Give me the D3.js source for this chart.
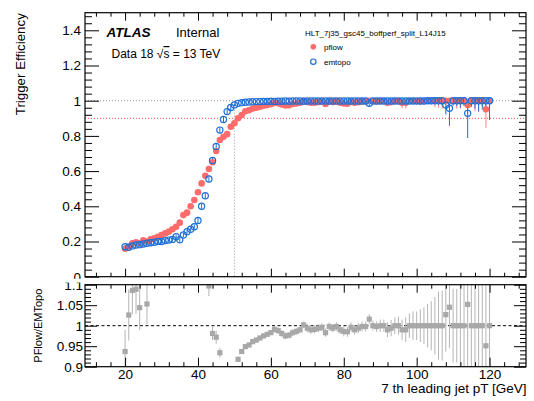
<!DOCTYPE html>
<html>
<head>
<meta charset="utf-8">
<script src="https://cdn.jsdelivr.net/npm/d3@7"></script>
<style>
  body { margin: 0; background: #fff; }
  svg { display: block; }
</style>
</head>
<body>
<svg id="chart" width="534" height="401"></svg>
<script>
// ---- data: 7th leading jet pT bins [GeV] ----
const ptBins = [20,21,22,23,24,25,26,27,28,29,30,31,32,33,34,35,36,37,38,39,
  40,41,42,43,44,45,46,47,48,49,50,51,52,53,54,55,56,57,58,59,
  60,61,62,63,64,65,66,67,68,69,70,71,72,73,74,75,76,77,78,79,
  80,81,82,83,84,85,86,87,88,89,90,91,92,93,94,95,96,97,98,99,
  100,101,102,103,104,105,106,107,108,109,110,111,112,113,114,115,116,117,118,119,120];

// trigger efficiency, pflow jets
const effPflow = [
  .159,.171,.190,.196,.190,.207,.200,.212,.218,.227,
  .237,.246,.256,.270,.284,.307,.350,.364,.400,.436,
  .480,.530,.574,.612,.650,.714,.777,.795,.810,.852,
  .872,.900,.919,.940,.946,.955,.960,.965,.971,.975,
  .980,.987,.985,.978,.973,.974,.981,.984,.988,.999,
  .992,.988,.989,.992,.994,.981,.996,.992,.996,.988,
  .984,.983,.994,.988,.992,.996,.996,1.0,.998,.996,
  .998,.998,.988,.992,.998,.998,.988,.988,.998,.998,
  .998,.998,.998,1.0,1.0,1.0,1.0,1.0,1.0,1.0,
  1.0,1.0,1.0,1.0,.976,1.0,1.0,1.0,1.0,.951,
  1.0];
// trigger efficiency, emtopo jets
const effEmtopo = [
  .170,.167,.175,.180,.182,.186,.190,.193,.196,.200,
  .200,.205,.208,.212,.227,.210,.237,.256,.270,.284,
  .320,.400,.460,.555,.660,.740,.833,.893,.938,.961,
  .976,.985,.989,.991,.993,.994,.995,.995,.996,.996,
  .997,.996,.997,.997,.998,.997,.998,.998,.998,.997,
  .998,.998,.998,.998,.998,.998,.998,.998,.998,.998,
  .998,.998,.998,.998,.998,.998,.998,.985,.998,.998,
  .998,.998,.998,.998,.998,.998,.998,.998,.998,.998,
  .998,.998,.998,1.0,1.0,1.0,1.0,1.0,.976,.957,
  1.0,1.0,1.0,1.0,.928,1.0,1.0,1.0,1.0,1.0,
  1.0];
// downward uncertainties on the efficiencies
const errPflow = [
  .012,.012,.012,.012,.012,.012,.012,.012,.012,.012,
  .015,.015,.015,.015,.015,.015,.015,.015,.015,.015,
  .015,.015,.015,.015,.015,.015,.015,.015,.015,.015,
  .008,.008,.007,.007,.006,.006,.006,.006,.006,.006,
  .006,.006,.008,.008,.008,.007,.007,.007,.007,.006,
  .007,.008,.008,.008,.008,.012,.008,.008,.008,.010,
  .010,.012,.010,.012,.010,.010,.010,.010,.010,.012,
  .012,.012,.020,.015,.012,.012,.030,.032,.015,.015,
  .018,.025,.018,.018,.020,.035,.040,.045,.025,.025,
  .030,.045,.045,.025,.050,.030,.060,.065,.035,.105,
  .050];
const errEmtopo = [
  .012,.012,.012,.012,.012,.012,.012,.012,.012,.012,
  .012,.012,.012,.012,.012,.012,.012,.012,.012,.012,
  .015,.015,.015,.015,.015,.015,.015,.015,.015,.015,
  .006,.005,.004,.003,.003,.003,.003,.003,.003,.003,
  .003,.003,.003,.003,.003,.003,.003,.003,.003,.003,
  .004,.004,.004,.004,.004,.004,.004,.004,.004,.004,
  .005,.005,.006,.006,.006,.006,.007,.015,.007,.008,
  .008,.008,.009,.009,.010,.010,.010,.012,.012,.012,
  .013,.014,.015,.018,.020,.020,.022,.025,.055,.100,
  .025,.030,.040,.030,.140,.035,.045,.060,.050,.045,
  .110];
// PFlow / EMTopo ratio (null = outside the 0.9-1.1 window)
const ratioVals = [
  .937,1.026,1.086,1.089,1.044,null,1.053,null,null,null,
  null,null,null,null,null,null,null,null,null,null,
  null,null,null,1.097,.981,.972,.934,null,null,null,
  null,.918,.937,.949,.953,.961,.965,.970,.975,.979,
  .983,.991,.988,.981,.975,.977,.983,.986,.990,1.002,
  .994,.990,.991,.994,.996,.983,.998,.994,.998,.990,
  .986,.985,.996,.990,.994,.998,.998,1.016,1.0,.998,
  1.0,1.0,.990,.994,1.0,1.0,.990,.990,1.0,1.0,
  1.0,1.0,1.0,1.0,1.0,1.0,1.0,1.0,1.027,1.045,
  1.0,1.0,1.0,1.0,1.052,1.0,1.0,1.0,1.0,.951,
  1.0];
const ratioErr = [
  .053,.062,.058,.060,.055,.060,.050,.045,.045,.045,
  .040,.040,.040,.040,.040,.040,.040,.040,.040,.040,
  .035,.030,.028,.025,.016,.016,.012,.010,.010,.010,
  .010,.006,.006,.006,.006,.006,.006,.006,.006,.006,
  .006,.008,.008,.008,.008,.008,.008,.008,.008,.008,
  .010,.010,.010,.010,.010,.010,.010,.010,.010,.010,
  .012,.012,.012,.012,.012,.012,.012,.012,.012,.013,
  .015,.015,.018,.020,.020,.022,.025,.030,.030,.035,
  .035,.040,.045,.053,.060,.070,.083,.085,.090,.100,
  .090,.090,.110,.120,.150,.120,.100,.130,.180,.200,
  .150];

const xTicks = [20, 40, 60, 80, 100, 120];
const yTicksTop = [0, 0.2, 0.4, 0.6, 0.8, 1, 1.2, 1.4];
const yTicksRatio = [0.9, 0.95, 1, 1.05, 1.1];
const legendLabels = ["pflow", "emtopo"];
const legendHeader = "HLT_7j35_gsc45_boffperf_split_L14J15";
const plateauLine = 0.9;
const thresholdPt = 50;

// ---- layout ----
const FONT = '"Liberation Sans", Arial, Helvetica, sans-serif';
const X0 = 85, X1 = 526, TY0 = 12.7, TY1 = 276.7, RY0 = 284.7, RY1 = 366.7;
const TOP_PAD_END = 278.8, BOT_PAD_START = 282.6;
const RED = "#ff6b6b", BLUE = "#1f6fd6", GREY = "#a8a8a8";

const x = d3.scaleLinear().domain([9, 130]).range([X0, X1]);
const yT = d3.scaleLinear().domain([0, 1.5]).range([TY1, TY0]);
const yR = d3.scaleLinear().domain([0.9, 1.1]).range([RY1, RY0]);

const svg = d3.select("#chart");
const defs = svg.append("defs");
defs.append("clipPath").attr("id", "padTop").append("rect")
  .attr("x", 0).attr("y", 0).attr("width", 534).attr("height", TOP_PAD_END);
defs.append("clipPath").attr("id", "padBot").append("rect")
  .attr("x", 0).attr("y", BOT_PAD_START).attr("width", 534).attr("height", 401 - BOT_PAD_START);
defs.append("clipPath").attr("id", "ratioFrame").append("rect")
  .attr("x", X0).attr("y", RY0).attr("width", X1 - X0).attr("height", RY1 - RY0);

const gTop = svg.append("g").attr("clip-path", "url(#padTop)");
const gBot = svg.append("g").attr("clip-path", "url(#padBot)");

const rows = ptBins.map((pt, i) => ({
  pt, pf: effPflow[i], em: effEmtopo[i], ePf: errPflow[i], eEm: errEmtopo[i],
  r: ratioVals[i], eR: ratioErr[i]
}));

function minorRange(a, b, step, majors) {
  const out = [];
  for (let v = a; v <= b + 1e-9; v += step) {
    const r = Math.round(v * 1000) / 1000;
    if (!majors.some(m => Math.abs(m - r) < 1e-6)) out.push(r);
  }
  return out;
}

function axis(g, gen, tr, values, size, fmt, fs, pad) {
  const a = g.append("g").attr("transform", tr)
    .call(gen.tickValues(values).tickSize(size).tickPadding(pad || 3)
      .tickFormat(fmt || (() => "")));
  a.select(".domain").remove();
  a.selectAll("line").attr("stroke", "#000").attr("stroke-width", 1);
  a.selectAll("text").attr("font-family", FONT).attr("font-size", fs || 13.5).attr("fill", "#000");
  return a;
}

const xMinor = minorRange(12, 128, 4, xTicks);

// ---- upper pad: efficiencies ----
gTop.append("line").attr("x1", X0).attr("x2", X1).attr("y1", yT(1)).attr("y2", yT(1))
  .attr("stroke", "#9a9a9a").attr("stroke-width", 1).attr("stroke-dasharray", "1,2");
gTop.append("line").attr("x1", X0).attr("x2", X1).attr("y1", yT(plateauLine)).attr("y2", yT(plateauLine))
  .attr("stroke", "#ff4d4d").attr("stroke-width", 1).attr("stroke-dasharray", "1,2");
gTop.append("line").attr("x1", x(thresholdPt)).attr("x2", x(thresholdPt)).attr("y1", yT(1)).attr("y2", yT(0))
  .attr("stroke", "#9a9a9a").attr("stroke-width", 1).attr("stroke-dasharray", "1,2");

function errBars(g, key, ekey, color) {
  g.append("g").selectAll("line").data(rows).join("line")
    .attr("x1", d => x(d.pt)).attr("x2", d => x(d.pt))
    .attr("y1", d => yT(d[key] - d[ekey]))
    .attr("y2", d => yT(d[key] + Math.min(d[ekey], Math.max(0, 1 - d[key]))))
    .attr("stroke", color).attr("stroke-width", 1);
}
errBars(gTop, "pf", "ePf", "#ff8080");
errBars(gTop, "em", "eEm", BLUE);

gTop.append("g").selectAll("circle").data(rows).join("circle")
  .attr("cx", d => x(d.pt)).attr("cy", d => yT(d.pf)).attr("r", 3.3)
  .attr("fill", RED);
gTop.append("g").selectAll("circle").data(rows).join("circle")
  .attr("cx", d => x(d.pt)).attr("cy", d => yT(d.em)).attr("r", 3.1)
  .attr("fill", "none").attr("stroke", BLUE).attr("stroke-width", 1.2);

// axes of the upper pad
const yMinorTop = minorRange(0, 1.5, 0.04, yTicksTop);
axis(gTop, d3.axisLeft(yT), `translate(${X0},0)`, yTicksTop, -14, d => d3.format("~g")(d), 13.5, 4);
axis(gTop, d3.axisLeft(yT), `translate(${X0},0)`, yMinorTop, -7);
axis(gTop, d3.axisRight(yT), `translate(${X1},0)`, yTicksTop, -14);
axis(gTop, d3.axisRight(yT), `translate(${X1},0)`, yMinorTop, -7);
axis(gTop, d3.axisBottom(x), `translate(0,${TY1})`, xTicks, -8);
axis(gTop, d3.axisBottom(x), `translate(0,${TY1})`, xMinor, -4);
axis(gTop, d3.axisTop(x), `translate(0,${TY0})`, xTicks, -8);
axis(gTop, d3.axisTop(x), `translate(0,${TY0})`, xMinor, -4);
gTop.append("rect").attr("x", X0).attr("y", TY0).attr("width", X1 - X0).attr("height", TY1 - TY0)
  .attr("fill", "none").attr("stroke", "#000").attr("stroke-width", 1.2);

gTop.append("text").attr("transform", `translate(25,${TY0 + 0.5}) rotate(-90)`)
  .attr("text-anchor", "end").attr("font-family", FONT).attr("font-size", 13.3)
  .text("Trigger Efficiency");

// labels
gTop.append("text").attr("x", 106.5).attr("y", 36.5).attr("font-family", FONT)
  .attr("font-size", 13.5).attr("font-weight", "bold").attr("font-style", "italic").text("ATLAS");
gTop.append("text").attr("x", 176).attr("y", 36.5).attr("font-family", FONT)
  .attr("font-size", 13).text("Internal");
const dataLbl = gTop.append("text").attr("x", 111.5).attr("y", 58).attr("font-family", FONT)
  .attr("font-size", 12);
dataLbl.append("tspan").text("Data 18 √");
dataLbl.append("tspan").attr("text-decoration", "overline").text("s");
dataLbl.append("tspan").text(" = 13 TeV");

// legend
gTop.append("text").attr("x", 305).attr("y", 36).attr("font-family", FONT)
  .attr("font-size", 8).text(legendHeader);
gTop.append("circle").attr("cx", 313.3).attr("cy", 46.8).attr("r", 2.8).attr("fill", RED);
gTop.append("circle").attr("cx", 313.3).attr("cy", 61.7).attr("r", 2.7)
  .attr("fill", "none").attr("stroke", BLUE).attr("stroke-width", 1.2);
gTop.append("text").attr("x", 324).attr("y", 49.8).attr("font-family", FONT)
  .attr("font-size", 8).text(legendLabels[0]);
gTop.append("text").attr("x", 324).attr("y", 64.7).attr("font-family", FONT)
  .attr("font-size", 8).text(legendLabels[1]);

// ---- lower pad: ratio ----
const gR = gBot.append("g").attr("clip-path", "url(#ratioFrame)");
gR.append("line").attr("x1", X0).attr("x2", X1).attr("y1", yR(1)).attr("y2", yR(1))
  .attr("stroke", "#000").attr("stroke-width", 1).attr("stroke-dasharray", "3,2.5");
const rPts = rows.filter(d => d.r !== null);
gR.append("g").selectAll("line").data(rPts).join("line")
  .attr("x1", d => x(d.pt)).attr("x2", d => x(d.pt))
  .attr("y1", d => yR(d.r - d.eR)).attr("y2", d => yR(d.r + d.eR))
  .attr("stroke", "#b4b4b4").attr("stroke-width", 1);
gR.append("g").selectAll("rect").data(rPts).join("rect")
  .attr("x", d => x(d.pt) - 2.6).attr("y", d => yR(d.r) - 2.6)
  .attr("width", 5.2).attr("height", 5.2).attr("fill", GREY);

const yMinorR = minorRange(0.9, 1.1, 0.01, yTicksRatio);
axis(gBot, d3.axisLeft(yR), `translate(${X0},0)`, yTicksRatio, -12, d => d3.format("~g")(d), 13.5, 2);
axis(gBot, d3.axisLeft(yR), `translate(${X0},0)`, yMinorR, -6);
axis(gBot, d3.axisRight(yR), `translate(${X1},0)`, yTicksRatio, -12);
axis(gBot, d3.axisRight(yR), `translate(${X1},0)`, yMinorR, -6);
axis(gBot, d3.axisBottom(x), `translate(0,${RY1})`, xTicks, -9, d => d, 13.5, 3);
axis(gBot, d3.axisBottom(x), `translate(0,${RY1})`, xMinor, -4.5);
axis(gBot, d3.axisTop(x), `translate(0,${RY0})`, xTicks, -8);
axis(gBot, d3.axisTop(x), `translate(0,${RY0})`, xMinor, -4);
gBot.append("rect").attr("x", X0).attr("y", RY0).attr("width", X1 - X0).attr("height", RY1 - RY0)
  .attr("fill", "none").attr("stroke", "#000").attr("stroke-width", 1.2);

gBot.append("text").attr("transform", `translate(41.5,${(RY0 + RY1) / 2}) rotate(-90)`)
  .attr("text-anchor", "middle").attr("font-family", FONT).attr("font-size", 11)
  .text("PFlow/EMTopo");
gBot.append("text").attr("x", 526.5).attr("y", 393).attr("text-anchor", "end")
  .attr("font-family", FONT).attr("font-size", 13.5).text("7 th leading jet pT [GeV]");
</script>
</body>
</html>
